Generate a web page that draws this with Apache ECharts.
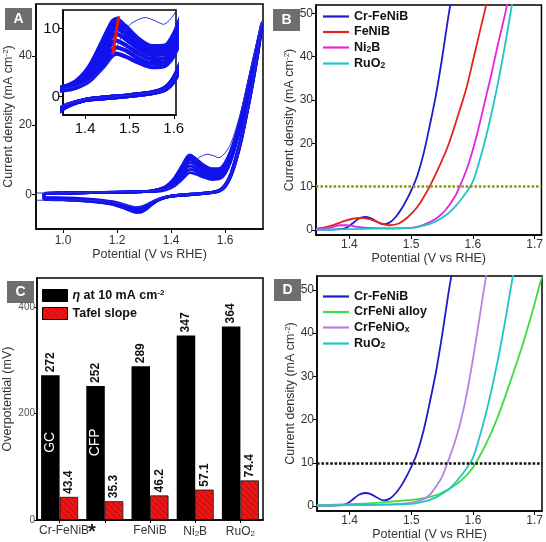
<!DOCTYPE html>
<html>
<head>
<meta charset="utf-8">
<script src="https://cdn.jsdelivr.net/npm/echarts@6/dist/echarts.min.js"></script>
<style>
  html, body { margin: 0; padding: 0; background: #fff; }
  #chart { width: 546px; height: 542px; }
</style>
</head>
<body>
<div id="chart"></div>
<script>
// ---------- Panel A: CV cycling (potential V vs RHE, current mA cm-2) ----------
const cvFwdPotential = [0.93, 1.1, 1.3, 1.35, 1.38, 1.41, 1.44, 1.46, 1.47, 1.49, 1.52, 1.55, 1.58, 1.6, 1.62, 1.64, 1.66, 1.68, 1.7, 1.72, 1.735];
const cvRevPotential = [1.735, 1.72, 1.7, 1.68, 1.66, 1.64, 1.62, 1.6, 1.58, 1.55, 1.5, 1.45, 1.4, 1.36, 1.33, 1.31, 1.29, 1.27, 1.25, 1.22, 1.18, 1.1, 1.0, 0.93];
// anodic scans, later cycles have a higher oxidation peak
const cvFwdCurrent = [
  [0.3, 0.5, 0.8, 0.9, 1.3, 2.3, 4.3, 5.9, 6.3, 5.9, 5.0, 4.3, 4.5, 6.0, 9.3, 14.3, 20.3, 27.3, 34.5, 42, 48],
  [0.3, 0.5, 0.8, 1.0, 1.5, 2.7, 5.0, 6.8, 7.2, 6.8, 5.6, 4.9, 5.0, 6.6, 9.9, 14.8, 20.8, 27.8, 35, 42.3, 48.2],
  [0.3, 0.5, 0.8, 1.1, 1.7, 3.1, 5.8, 7.8, 8.2, 7.6, 6.3, 5.5, 5.6, 7.2, 10.5, 15.3, 21.3, 28.3, 35.5, 42.6, 48.4],
  [0.3, 0.5, 0.8, 1.2, 1.9, 3.5, 6.6, 8.7, 9.2, 8.5, 7.0, 6.1, 6.2, 7.8, 11.1, 15.8, 21.8, 28.8, 36, 43, 48.6],
  [0.3, 0.5, 0.8, 1.3, 2.0, 3.9, 7.2, 9.5, 10.0, 9.2, 7.6, 6.6, 6.7, 8.3, 11.6, 16.3, 22.3, 29.3, 36.4, 43.3, 48.8],
  [0.3, 0.5, 0.8, 1.3, 2.1, 4.2, 7.7, 10.1, 10.6, 9.7, 8.0, 7.0, 7.1, 8.8, 12.0, 16.7, 22.7, 29.7, 36.7, 43.6, 49],
  [0.3, 0.5, 0.8, 1.4, 2.2, 4.4, 8.0, 10.5, 11.0, 10.1, 8.3, 7.2, 7.3, 9.0, 12.3, 17.0, 23.0, 30.0, 37.0, 43.8, 49.2],
  [0.3, 0.5, 0.8, 1.4, 2.3, 4.5, 8.3, 10.9, 11.4, 10.4, 8.5, 7.4, 7.5, 9.2, 12.5, 17.2, 23.2, 30.2, 37.2, 44, 49.4]
];
// cathodic scans
const cvRevCurrent = [
  [48, 40, 31, 23, 15.5, 9.5, 5.0, 2.2, 1.0, 0.5, 0.1, -0.2, -0.5, -1.2, -2.2, -3.0, -3.6, -3.8, -3.5, -2.8, -2.1, -1.4, -1.0, -0.8],
  [48.2, 40.2, 31.2, 23.2, 15.7, 9.7, 5.1, 2.3, 1.0, 0.5, 0.1, -0.2, -0.5, -1.2, -2.3, -3.2, -3.9, -4.1, -3.8, -3.0, -2.2, -1.5, -1.1, -0.9],
  [48.4, 40.4, 31.4, 23.4, 15.9, 9.9, 5.2, 2.4, 1.1, 0.5, 0.1, -0.2, -0.5, -1.3, -2.4, -3.4, -4.2, -4.4, -4.0, -3.2, -2.4, -1.6, -1.2, -1.0],
  [48.6, 40.6, 31.6, 23.6, 16.1, 10.1, 5.4, 2.5, 1.1, 0.5, 0.1, -0.2, -0.5, -1.3, -2.5, -3.6, -4.5, -4.6, -4.2, -3.4, -2.5, -1.7, -1.3, -1.1],
  [48.8, 40.8, 31.8, 23.8, 16.3, 10.3, 5.5, 2.6, 1.2, 0.6, 0.2, -0.1, -0.5, -1.4, -2.6, -3.8, -4.7, -4.8, -4.4, -3.6, -2.6, -1.8, -1.4, -1.2],
  [49, 41, 32, 24, 16.5, 10.5, 5.6, 2.7, 1.2, 0.6, 0.2, -0.1, -0.5, -1.4, -2.7, -4.0, -4.9, -5.0, -4.5, -3.7, -2.7, -1.9, -1.5, -1.3],
  [49.2, 41.2, 32.2, 24.2, 16.7, 10.7, 5.7, 2.8, 1.3, 0.6, 0.2, -0.1, -0.5, -1.4, -2.8, -4.1, -5.0, -5.1, -4.6, -3.8, -2.8, -2.0, -1.5, -1.4],
  [49.4, 41.4, 32.4, 24.4, 16.9, 10.9, 5.8, 2.8, 1.3, 0.6, 0.2, -0.1, -0.5, -1.4, -2.8, -4.2, -5.1, -5.2, -4.7, -3.8, -2.8, -2.0, -1.6, -1.4]
];
// first cycle (thin line with the hump near 1.54 V)
const firstFwdPotential = [0.9, 1.1, 1.3, 1.36, 1.4, 1.43, 1.45, 1.465, 1.48, 1.5, 1.52, 1.536, 1.555, 1.577, 1.6, 1.62, 1.64, 1.66, 1.68, 1.7, 1.72, 1.735];
const firstFwdCurrent = [0.4, 0.6, 0.9, 1.2, 2.0, 3.4, 4.8, 6.3, 8.5, 10.5, 11.3, 11.6, 11.2, 10.6, 12.0, 14.5, 19.0, 24.5, 31.0, 38.0, 45.0, 50.0];
const firstRevPotential = [1.735, 1.72, 1.7, 1.68, 1.66, 1.64, 1.62, 1.6, 1.58, 1.55, 1.5, 1.45, 1.4, 1.36, 1.33, 1.31, 1.29, 1.27, 1.25, 1.22, 1.18, 1.1, 1.0, 0.9];
const firstRevCurrent = [50, 41, 32, 23.5, 16, 10, 5.4, 2.5, 1.1, 0.6, 0.2, -0.1, -0.4, -1.1, -2.0, -2.8, -3.5, -3.7, -3.4, -2.8, -2.2, -1.7, -1.6, -1.7];
// red arrow across the oxidation peaks (inset)
const arrowPotential = [1.462, 1.476];
const arrowCurrent = [6.2, 11.8];

// ---------- Panels B and D: LSV curves ----------
const crFeNiBPotential = [1.346, 1.37, 1.385, 1.395, 1.405, 1.415, 1.425, 1.435, 1.445, 1.455, 1.465, 1.475, 1.485, 1.495, 1.503, 1.51, 1.52, 1.53, 1.54, 1.55, 1.56, 1.566];
const crFeNiBCurrent = [0.1, 0.1, 0.2, 0.5, 1.5, 2.6, 3.0, 2.7, 1.9, 1.3, 1.7, 3.0, 5.0, 7.6, 10, 12.5, 17.5, 24, 31, 39.5, 49, 54];
const feNiBPotential = [1.346, 1.36, 1.375, 1.39, 1.405, 1.42, 1.435, 1.45, 1.465, 1.48, 1.495, 1.51, 1.52, 1.53, 1.545, 1.56, 1.575, 1.59, 1.6, 1.61, 1.62, 1.625];
const feNiBCurrent = [0.3, 0.6, 1.2, 2.0, 2.6, 2.8, 2.4, 1.6, 1.1, 1.5, 3.0, 5.3, 7.5, 10, 14.5, 19.5, 26, 33, 39, 45, 51, 54];
const ni2BPotential = [1.346, 1.37, 1.385, 1.395, 1.41, 1.43, 1.46, 1.5, 1.52, 1.54, 1.555, 1.57, 1.58, 1.59, 1.6, 1.61, 1.62, 1.63, 1.64, 1.65, 1.657];
const ni2BCurrent = [0.2, 0.6, 1.1, 1.1, 0.8, 0.5, 0.4, 0.5, 1.2, 2.6, 4.5, 7.5, 10.5, 14, 18.5, 24, 30, 36, 42.5, 48.5, 53];
const ruO2Potential = [1.346, 1.4, 1.45, 1.5, 1.52, 1.54, 1.56, 1.575, 1.59, 1.6, 1.61, 1.62, 1.63, 1.64, 1.65, 1.66, 1.667];
const ruO2Current = [0.1, 0.2, 0.3, 0.5, 1.0, 2.0, 3.8, 6.0, 8.8, 11.2, 15.6, 20.8, 26.8, 33.5, 41, 49.3, 55];
const alloyPotential = [1.347, 1.4, 1.45, 1.5, 1.52, 1.54, 1.55, 1.56, 1.58, 1.6, 1.62, 1.64, 1.66, 1.68, 1.69, 1.7, 1.705, 1.712];
const alloyCurrent = [0.2, 0.4, 0.8, 1.4, 1.8, 2.5, 3.1, 3.8, 5.8, 8.9, 14, 20.5, 28.5, 37, 41.8, 46.8, 49.5, 53];
const oxidePotential = [1.347, 1.4, 1.45, 1.5, 1.52, 1.53, 1.54, 1.55, 1.56, 1.57, 1.58, 1.59, 1.6, 1.61, 1.62, 1.625];
const oxideCurrent = [0.1, 0.2, 0.3, 0.8, 1.6, 2.6, 4.5, 6.8, 10.5, 14.5, 19.5, 26, 34, 43, 52, 56];
const refCurrent = 10;

// ---------- Panel C: overpotential and Tafel slope ----------
const catNames = ['Cr-FeNiB GC', 'Cr-FeNiB CFP', 'FeNiB', 'Ni2B', 'RuO2'];
const catLabels = ['{cr|Cr-FeNiB}', '{star|*}', 'FeNiB', 'Ni{s|2}B', 'RuO{s|2}'];
const etaValues = [272, 252, 289, 347, 364];
const tafelValues = [43.4, 35.3, 46.2, 57.1, 74.4];
const substrateLabels = ['GC', 'CFP'];

// ---------- tick values ----------
const aXTicks = [1.0, 1.2, 1.4, 1.6];
const aYTicks = [0, 20, 40];
const insetXTicks = [1.4, 1.5, 1.6];
const insetYTicks = [0, 10];
const lsvXTicks = [1.4, 1.5, 1.6, 1.7];
const lsvYTicks = [0, 10, 20, 30, 40, 50];
const cYTicks = [0, 200, 400];

const FONT = 'Liberation Sans';
const pairs = (xs, ys) => xs.map((x, i) => [x, ys[i]]);

const blueA = '#1212ee';
const colors = {
  'Cr-FeNiB': '#1c1ccc',
  'FeNiB': '#e3231d',
  'Ni2B': '#e524e0',
  'RuO2': '#22c4c8',
  'CrFeNi alloy': '#3bdc3b',
  'CrFeNiOx': '#b783dd'
};

function valueAxis(grid, min, max, ticks, o) {
  o = o || {};
  return {
    type: 'value', gridIndex: grid, min: min, max: max,
    name: o.name || '', nameLocation: 'middle', nameGap: o.nameGap || 20,
    nameTextStyle: {
      color: '#333', fontSize: 12.5, fontFamily: FONT,
      rich: { sup: { fontSize: 8, fontFamily: FONT, color: '#333', verticalAlign: 'top' } }
    },
    axisLine: { show: true, onZero: false, lineStyle: { color: '#000', width: 1.5 } },
    axisTick: { show: true, length: o.tickLen || 4, customValues: ticks, lineStyle: { color: '#000', width: 1 } },
    axisLabel: {
      customValues: ticks, color: o.labelColor || '#333', fontSize: o.fontSize || 12,
      fontFamily: FONT, margin: o.margin || 4, formatter: o.formatter
    },
    splitLine: { show: false }
  };
}
const fmt1 = v => v.toFixed(1);

// build panel A series (main plot + inset)
const aSeries = [];
[0, 1].forEach(axis => {
  cvFwdCurrent.forEach((fwd, k) => {
    const loop = pairs(cvFwdPotential, fwd).concat(pairs(cvRevPotential, cvRevCurrent[k]));
    loop.push(loop[0]);
    aSeries.push({
      name: 'cycle' + k, type: 'line', xAxisIndex: axis, yAxisIndex: axis,
      data: loop, symbol: 'none', smooth: 0.25, silent: true,
      lineStyle: { color: blueA, width: axis === 0 ? 2.8 : 4.2 }
    });
  });
  aSeries.push({
    name: 'first cycle', type: 'line', xAxisIndex: axis, yAxisIndex: axis,
    data: pairs(firstFwdPotential, firstFwdCurrent).concat(pairs(firstRevPotential, firstRevCurrent)),
    symbol: 'none', smooth: 0.25, silent: true,
    lineStyle: { color: '#2a2ad8', width: 1 }
  });
});
aSeries.push({
  name: 'arrow', type: 'line', xAxisIndex: 1, yAxisIndex: 1,
  data: pairs(arrowPotential, arrowCurrent), symbol: 'none', silent: true,
  lineStyle: { color: '#ee1111', width: 3 }, z: 5
});

function lsv(name, grid, xs, ys, extra) {
  return Object.assign({
    name: name, type: 'line', xAxisIndex: grid, yAxisIndex: grid,
    data: pairs(xs, ys), symbol: 'none', smooth: 0.35,
    lineStyle: { color: colors[name], width: 1.8 }, itemStyle: { color: colors[name] }
  }, extra || {});
}
function refLine(color) {
  return {
    symbol: 'none', silent: true, label: { show: false },
    lineStyle: { color: color, width: 2.6, type: [2.6, 1.8] },
    data: [{ yAxis: refCurrent }]
  };
}

// hatched red fill for Tafel bars
const hatch = document.createElement('canvas');
hatch.width = 6; hatch.height = 6;
(function () {
  const g = hatch.getContext('2d');
  g.fillStyle = '#ee1414'; g.fillRect(0, 0, 6, 6);
  g.strokeStyle = 'rgba(120,0,0,0.45)'; g.lineWidth = 1;
  g.beginPath(); g.moveTo(0, 0); g.lineTo(6, 6); g.moveTo(-3, 3); g.lineTo(3, 9); g.moveTo(3, -3); g.lineTo(9, 3); g.stroke();
})();

const legendLabels = {
  'Cr-FeNiB': 'Cr-FeNiB', 'FeNiB': 'FeNiB', 'Ni2B': 'Ni{s|2}B', 'RuO2': 'RuO{s|2}',
  'CrFeNi alloy': 'CrFeNi alloy', 'CrFeNiOx': 'CrFeNiO{s|x}',
  'eta': '{i|η} at 10 mA cm{p|-2}', 'tafel': 'Tafel slope'
};
const legendText = {
  color: '#111', fontWeight: 'bold', fontSize: 12.5, fontFamily: FONT,
  rich: {
    s: { fontSize: 8.5, fontWeight: 'bold', fontFamily: FONT, color: '#111', verticalAlign: 'bottom', padding: [5, 0, 0, 0] },
    p: { fontSize: 8, fontWeight: 'bold', fontFamily: FONT, color: '#111', verticalAlign: 'top', padding: [0, 0, 5, 0] },
    i: { fontSize: 12.5, fontStyle: 'italic', fontFamily: FONT, color: '#111' }
  }
};

function badge(letter, x, y) {
  return {
    type: 'group', left: x, top: y, z: 100,
    children: [
      { type: 'rect', shape: { x: 0, y: 0, width: 27, height: 22 }, style: { fill: '#6e6e6e' } },
      { type: 'text', x: 13.5, y: 11, style: { text: letter, fill: '#fff', font: 'bold 14px "Liberation Sans"', align: 'center', verticalAlign: 'middle' } }
    ]
  };
}

const option = {
  animation: false,
  backgroundColor: '#fff',
  grid: [
    { left: 36, top: 4, width: 227, height: 225, show: true, borderColor: '#000', borderWidth: 1.5, backgroundColor: 'transparent' },
    { left: 63, top: 10, width: 113, height: 105, show: true, borderColor: '#000', borderWidth: 1.5, backgroundColor: '#fff' },
    { left: 316, top: 5, width: 227, height: 230, show: true, borderColor: '#000', borderWidth: 1.5 },
    { left: 37, top: 278, width: 226, height: 244, show: true, borderColor: '#000', borderWidth: 1.5 },
    { left: 317, top: 276, width: 225, height: 235, show: true, borderColor: '#000', borderWidth: 1.5 }
  ],
  xAxis: [
    valueAxis(0, 0.9, 1.74, aXTicks, { name: 'Potential (V vs RHE)', nameGap: 19, formatter: fmt1, margin: 6 }),
    valueAxis(1, 1.35, 1.605, insetXTicks, { formatter: fmt1, fontSize: 15, labelColor: '#111', margin: 6 }),
    valueAxis(2, 1.346, 1.711, lsvXTicks, { name: 'Potential (V vs RHE)', nameGap: 14, formatter: fmt1 }),
    {
      type: 'category', gridIndex: 3, data: catNames,
      axisLine: { show: true, lineStyle: { color: '#000', width: 1.5 } },
      axisTick: { show: true, alignWithLabel: true, length: 3, lineStyle: { color: '#000' } },
      axisLabel: {
        interval: 0, color: '#333', fontSize: 12, fontFamily: FONT, margin: 5,
        formatter: (v, i) => catLabels[i],
        rich: {
          cr: { fontSize: 12, fontFamily: FONT, color: '#333', padding: [0, 0, 0, 9] },
          star: { fontSize: 20, fontWeight: 'bold', fontFamily: FONT, color: '#222', padding: [0, 26, 0, 0], lineHeight: 14 },
          s: { fontSize: 8, fontFamily: FONT, color: '#333', verticalAlign: 'bottom', padding: [5, 0, 0, 0] }
        }
      }
    },
    valueAxis(4, 1.347, 1.712, lsvXTicks, { name: 'Potential (V vs RHE)', nameGap: 14, formatter: fmt1 })
  ],
  yAxis: [
    valueAxis(0, -10, 55, aYTicks, { name: 'Current density (mA cm{sup|-2})', nameGap: 19 }),
    valueAxis(1, -2.7, 12.7, insetYTicks, { fontSize: 15, labelColor: '#111', margin: 3 }),
    valueAxis(2, -1.15, 51.9, lsvYTicks, { name: 'Current density (mA cm{sup|-2})', nameGap: 16, margin: 3 }),
    valueAxis(3, 0, 455, cYTicks, { name: 'Overpotential (mV)', nameGap: 22, fontSize: 10, labelColor: '#555', margin: 2, tickLen: 3 }),
    valueAxis(4, -1.16, 53.2, lsvYTicks, { name: 'Current density (mA cm{sup|-2})', nameGap: 17, margin: 3 })
  ],
  legend: [
    {
      data: ['Cr-FeNiB', 'FeNiB', 'Ni2B', 'RuO2'], orient: 'vertical', left: 323, top: 10, padding: 0, icon: 'rect',
      itemWidth: 26, itemHeight: 2.2, itemGap: 2.5, textStyle: legendText,
      formatter: n => legendLabels[n], selectedMode: false
    },
    {
      data: ['Cr-FeNiB', 'CrFeNi alloy', 'CrFeNiOx', 'RuO2'], orient: 'vertical', left: 323, top: 290, padding: 0, icon: 'rect',
      itemWidth: 26, itemHeight: 2.2, itemGap: 2.5, textStyle: legendText,
      formatter: n => legendLabels[n], selectedMode: false
    },
    {
      data: ['eta', 'tafel'], orient: 'vertical', left: 42, top: 289, padding: 0, icon: 'rect',
      itemWidth: 25, itemHeight: 12, itemGap: 5, textStyle: legendText,
      itemStyle: { borderColor: '#000', borderWidth: 1 },
      formatter: n => legendLabels[n], selectedMode: false
    }
  ],
  series: aSeries.concat([
    lsv('Cr-FeNiB', 2, crFeNiBPotential, crFeNiBCurrent, { markLine: refLine('#94940c') }),
    lsv('FeNiB', 2, feNiBPotential, feNiBCurrent),
    lsv('Ni2B', 2, ni2BPotential, ni2BCurrent),
    lsv('RuO2', 2, ruO2Potential, ruO2Current),
    {
      name: 'eta', type: 'bar', xAxisIndex: 3, yAxisIndex: 3, data: etaValues,
      barWidth: 18.5, barGap: '0%', itemStyle: { color: '#000' },
      label: {
        show: true, position: 'top', rotate: 90, align: 'left', verticalAlign: 'middle', distance: 3,
        color: '#111', fontWeight: 'bold', fontSize: 12, fontFamily: FONT
      },
      markPoint: {
        symbol: 'circle', symbolSize: 0, silent: true,
        label: { show: true, position: 'inside', rotate: 90, color: '#fff', fontSize: 14, fontFamily: FONT, formatter: p => p.name },
        data: substrateLabels.map((s, i) => ({ name: s, coord: [catNames[i], 146] }))
      }
    },
    {
      name: 'tafel', type: 'bar', xAxisIndex: 3, yAxisIndex: 3, data: tafelValues,
      barWidth: 18.5, barGap: '0%',
      itemStyle: { color: { image: hatch, repeat: 'repeat' }, borderColor: '#111', borderWidth: 0.8 },
      label: {
        show: true, position: 'top', rotate: 90, align: 'left', verticalAlign: 'middle', distance: 3,
        color: '#111', fontWeight: 'bold', fontSize: 12, fontFamily: FONT
      }
    },
    lsv('Cr-FeNiB', 4, crFeNiBPotential, crFeNiBCurrent, { markLine: refLine('#111') }),
    lsv('CrFeNi alloy', 4, alloyPotential, alloyCurrent),
    lsv('CrFeNiOx', 4, oxidePotential, oxideCurrent),
    lsv('RuO2', 4, ruO2Potential, ruO2Current)
  ]),
  graphic: [badge('A', 5, 8), badge('B', 273, 9), badge('C', 7, 281), badge('D', 274, 279)]
};

const chart = echarts.init(document.getElementById('chart'));
chart.setOption(option);
window.addEventListener('resize', () => chart.resize());
</script>
</body>
</html>
